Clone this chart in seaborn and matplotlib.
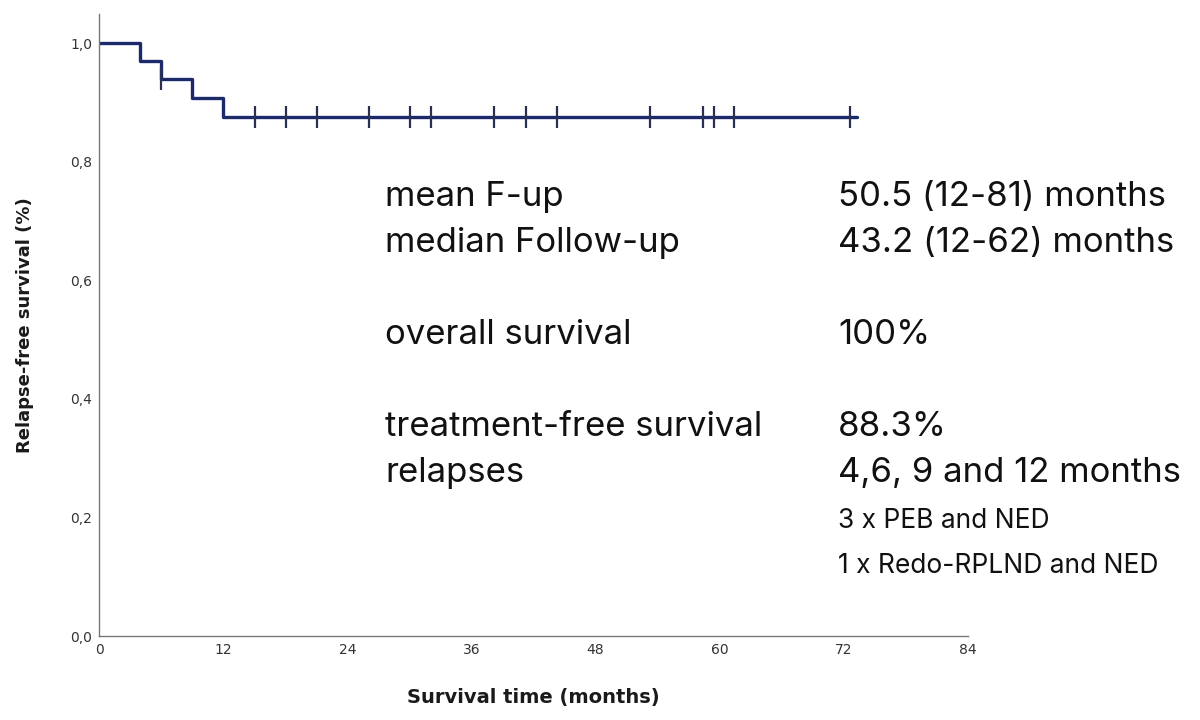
import pandas as pd
import matplotlib.pyplot as plt
import seaborn as sns

# --------- Data --------- #
step_times = [0, 4, 6, 9, 12, 73.3]
step_surv = [1.0, 0.970, 0.939, 0.908, 0.876, 0.876]
censor_times = [6, 15.1, 18.1, 21.1, 26.1, 30.1, 32.1, 38.2, 41.3, 44.3,
                53.3, 58.4, 59.4, 61.4, 72.6]
censor_surv = [0.939] + [0.876] * 14

x_ticks = [0, 12, 24, 36, 48, 60, 72, 84]
y_ticks = [0.0, 0.2, 0.4, 0.6, 0.8, 1.0]
y_tick_labels = ["0,0", "0,2", "0,4", "0,6", "0,8", "1,0"]

left_col = ["mean F-up", "median Follow-up", "overall survival",
            "treatment-free survival", "relapses"]
right_col = ["50.5 (12-81) months", "43.2 (12-62) months", "100%",
             "88.3%", "4,6, 9 and 12 months"]
row_y = [197, 243, 335, 427, 473]
notes = ["3 x PEB and NED", "1 x Redo-RPLND and NED"]
notes_y = [521, 566]

LINE = "#1c2a6b"

sns.set_style("white")
plt.rcParams["font.family"] = ["DejaVu Sans"]

fig = plt.figure(figsize=(12, 7.2), dpi=100)
ax = fig.add_axes([99 / 1200, 84 / 720, 869 / 1200, 622 / 720])

curve = pd.DataFrame({"t": step_times, "s": step_surv})
sns.lineplot(data=curve, x="t", y="s", drawstyle="steps-post", color=LINE,
             linewidth=2.4, ax=ax)
cens = pd.DataFrame({"t": censor_times, "s": censor_surv})
sns.scatterplot(data=cens, x="t", y="s", marker="|", s=240, linewidth=1.6,
                color="#2b3050", ax=ax, zorder=3)

ax.set_xlim(0, 84)
ax.set_ylim(0, 1.049)
ax.set_xticks(x_ticks)
ax.set_yticks(y_ticks)
ax.set_yticklabels(y_tick_labels)
ax.tick_params(length=0, labelsize=10, colors="#333333", pad=5)
for side in ["top", "right"]:
    ax.spines[side].set_visible(False)
for side in ["left", "bottom"]:
    ax.spines[side].set_color("#777777")
    ax.spines[side].set_linewidth(1.0)

ax.set_xlabel("Survival time (months)", fontsize=14, fontweight="bold",
              labelpad=22, color="#1a1a1a")
ax.set_ylabel("Relapse-free survival (%)", fontsize=13, fontweight="bold",
              labelpad=26, color="#1a1a1a")

# --------- Summary text --------- #
for lab, val, y in zip(left_col, right_col, row_y):
    fig.text(385 / 1200, 1 - y / 720, lab, fontsize=25, family="Inter",
             va="center", ha="left", color="#111111")
    fig.text(838 / 1200, 1 - y / 720, val, fontsize=25, family="Inter",
             va="center", ha="left", color="#111111")
for note, y in zip(notes, notes_y):
    fig.text(838 / 1200, 1 - y / 720, note, fontsize=19, family="Inter",
             va="center", ha="left", color="#111111")

fig.savefig("out.png", dpi=100)
